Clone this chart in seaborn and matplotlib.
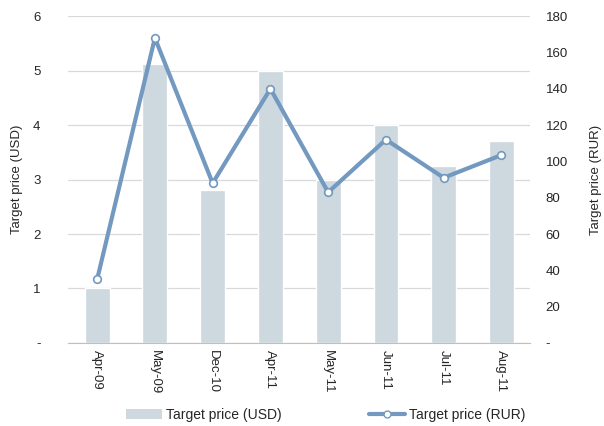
import numpy as np
import pandas as pd
import seaborn as sns
import matplotlib.pyplot as plt
from matplotlib.lines import Line2D
from matplotlib.patches import Patch

# data
dates = ["Apr-09", "May-09", "Dec-10", "Apr-11", "May-11", "Jun-11", "Jul-11", "Aug-11"]
usd = [1.0, 5.13, 2.8, 5.0, 3.0, 4.0, 3.25, 3.7]
rur = [35, 168, 88, 140, 83, 112, 91, 103.5]

bar_color = "#CDD8DF"
line_color = "#7399C0"

sns.set_style("white")
plt.rcParams["font.family"] = ["Liberation Sans", "DejaVu Sans"]
plt.rcParams["font.size"] = 9

df = pd.DataFrame({"Date": dates, "USD": usd, "RUR": rur})

fig, ax = plt.subplots(figsize=(6.04, 4.26), dpi=100)
fig.subplots_adjust(left=0.113, right=0.878, top=0.962, bottom=0.195)

sns.barplot(data=df, x="Date", y="USD", color=bar_color, width=0.43,
            saturation=1, ax=ax, zorder=2)
ax.set_ylim(0, 6)
ax.set_xlim(-0.5, len(dates) - 0.5)
ax.set_yticks(range(0, 7))
ax.set_yticklabels(["-"] + [str(i) for i in range(1, 7)])
ax.yaxis.grid(True, color="#D9D9D9", linewidth=0.9, zorder=0)
ax.set_axisbelow(True)
ax.set_xlabel("")
ax.set_ylabel("Target price (USD)", fontsize=9.5, labelpad=7)
ax.tick_params(axis="y", length=0, pad=20, labelsize=9.5)
ax.tick_params(axis="x", length=0, pad=5, labelsize=9.5, rotation=270)
ax.set_xticks(np.arange(-0.5, len(dates)), minor=True)
ax.tick_params(axis="x", which="minor", length=5, color="#BFBFBF", width=0.9)
for s in ["top", "left", "right"]:
    ax.spines[s].set_visible(False)
ax.spines["bottom"].set_color("#BFBFBF")

ax2 = ax.twinx()
sns.lineplot(x=np.arange(len(dates)), y=rur, ax=ax2, color=line_color, linewidth=3,
             marker="o", markersize=5.5, markerfacecolor="white",
             markeredgecolor=line_color, markeredgewidth=1.2, zorder=3)
ax2.set_ylim(0, 180)
ax2.set_yticks(range(0, 181, 20))
ax2.set_yticklabels(["-"] + [str(i) for i in range(20, 181, 20)])
ax2.tick_params(axis="y", length=0, pad=11, labelsize=9.5)
ax2.set_ylabel("Target price (RUR)", fontsize=9.5, labelpad=16)
for s in ["top", "left", "right", "bottom"]:
    ax2.spines[s].set_visible(False)

handles = [
    Patch(facecolor=bar_color, edgecolor="none", label="Target price (USD)"),
    Line2D([0], [0], color=line_color, linewidth=3, marker="o", markersize=5,
           markerfacecolor="white", markeredgecolor=line_color, label="Target price (RUR)"),
]
fig.legend(handles=handles, loc="center", bbox_to_anchor=(0.539, 0.026), ncol=2,
           frameon=False, fontsize=10, columnspacing=6.3, handlelength=2.6,
           handleheight=0.8, handletextpad=0.3, borderpad=0, borderaxespad=0)

fig.savefig("out.png", dpi=100)
